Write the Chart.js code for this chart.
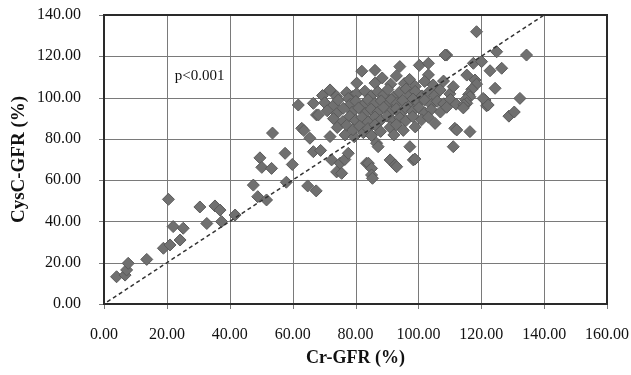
<!DOCTYPE html>
<html lang="en">
<head>
  <meta charset="UTF-8" />
  <title>CysC-GFR vs Cr-GFR</title>
  <script src="https://cdn.jsdelivr.net/npm/chart.js"></script>
  <style>
    body { margin: 0; background: #fff; }
  </style>
</head>
<body>
  <div style="position:relative;width:631px;height:375px"><canvas id="scatter"></canvas></div>

  <script>
    // [Cr-GFR %, CysC-GFR %] pairs
    const lowPoints = [
      [4.0,13.2],[6.7,14.0],[7.2,16.5],[7.7,19.7],[13.6,21.6],[20.5,50.7],[18.9,27.0],
      [21.0,28.6],[22.0,37.5],[25.2,36.7],[24.2,31.0],[30.5,47.0],[32.7,39.0],[35.3,47.5],
      [36.9,45.5],[37.4,39.9],[41.7,43.1]
    ];
    const midPoints = [
      [47.5,57.6],[48.9,52.0],[51.7,50.4],[58.0,59.0],[64.8,57.2],[67.5,54.8],[53.6,82.8],
      [49.6,70.8],[50.2,66.2],[53.3,65.7],[57.6,73.0],[59.9,67.6],[62.9,85.1],[61.8,96.4],
      [66.6,97.2],[67.6,91.6],[66.6,73.8],[68.9,74.4],[65.5,80.3],[63.6,84.0],[68.2,91.6]
    ];
    const clusterPoints = [
      // y ~105-113
      [80.4,107.0],[82.0,112.8],[86.2,113.2],[86.2,107.0],[88.5,109.5],[91.2,106.5],[93.0,110.5],
      [94.1,115.0],[95.5,106.8],[97.2,108.8],[99.0,105.4],[100.3,115.6],[103.2,116.6],[103.2,111.0],
      [102.0,107.8],[104.7,106.1],[108.0,108.0],[109.0,120.6],
      // y ~100-104
      [69.5,101.0],[71.9,103.7],[74.0,100.6],[77.2,102.4],[79.0,100.5],[80.4,102.0],[83.0,103.1],
      [85.0,100.9],[87.1,102.8],[89.0,101.4],[90.3,103.9],[92.1,100.2],[94.0,102.6],[96.1,104.2],
      [97.3,101.1],[99.0,103.0],[101.2,100.8],[103.0,102.2],[105.2,101.0],[106.9,103.7],[110.0,101.8],
      [111.1,105.3],
      // y ~96-99
      [70.2,97.5],[73.1,96.4],[74.5,98.8],[77.7,99.6],[78.4,96.8],[80.1,98.2],[82.3,96.1],
      [84.0,98.9],[86.1,97.0],[88.2,98.4],[90.0,96.3],[91.4,99.0],[93.2,97.2],[95.0,98.6],
      [97.1,96.0],[98.3,99.3],[100.0,97.4],[102.0,98.8],[104.1,96.6],[106.0,98.2],[108.1,97.0],
      [110.2,99.1],[112.0,96.8],
      // y ~92-95
      [71.0,93.6],[74.0,92.2],[76.1,94.8],[79.0,93.0],[81.0,95.0],[83.2,92.5],[85.0,94.4],
      [87.1,92.9],[89.0,95.2],[91.2,93.1],[93.0,94.6],[94.2,92.2],[96.0,94.9],[98.1,93.3],
      [100.2,95.1],[102.0,92.6],[104.1,94.2],[107.0,93.0],[109.0,95.3],
      // y ~88-91
      [73.0,89.8],[76.0,88.4],[78.2,90.9],[80.0,88.9],[82.1,90.4],[84.0,88.2],[86.2,90.6],
      [88.0,89.0],[90.1,91.0],[92.0,88.6],[94.1,90.2],[96.0,88.8],[98.2,90.8],[101.0,89.2],
      [103.2,90.5],[105.3,87.5],
      // y ~80-87
      [71.9,81.1],[74.2,85.5],[76.7,81.9],[77.2,86.6],[79.6,81.0],[79.2,84.4],[81.3,86.2],
      [82.5,83.0],[84.0,85.0],[85.1,81.6],[86.2,86.8],[88.0,83.6],[91.0,85.6],[92.2,81.9],
      [93.0,86.9],[95.2,84.1],[99.0,85.8],[86.7,77.9],[87.2,76.2],
      // below the cluster
      [72.4,69.8],[74.0,64.0],[75.1,68.2],[76.6,70.0],[75.6,63.3],[77.7,73.0],[83.5,68.2],
      [84.1,68.2],[85.1,65.7],[85.1,62.5],[85.4,60.9],[91.0,69.8],[92.6,67.3],[93.1,66.5],
      [97.3,76.2],[98.4,69.8],[98.9,70.2]
    ];
    const highPoints = [
      [118.5,131.9],[124.9,122.2],[134.4,120.6],[108.5,120.6],[117.5,116.6],[120.1,117.4],
      [122.8,113.0],[126.5,114.2],[115.4,110.9],[118.0,108.5],[118.5,106.5],[117.0,104.0],
      [116.0,101.5],[116.4,100.4],[115.0,99.0],[115.4,97.2],[114.5,96.5],[114.3,95.0],
      [121.2,98.8],[121.7,96.0],[120.6,99.6],[122.2,96.4],[124.4,104.5],[132.3,99.6],
      [128.8,91.0],[130.5,93.0],[111.6,85.1],[112.2,84.3],[116.4,83.5],[111.1,76.2]
    ];

    const refLine = [[1, 1], [140, 140]];
    const pLabel = { text: 'p<0.001', x: 22.5, y: 110.5 };

    const xTitle = 'Cr-GFR (%)';
    const yTitle = 'CysC-GFR (%)';

    const toXY = arr => arr.map(p => ({ x: p[0], y: p[1] }));
    const allPoints = [].concat(lowPoints, midPoints, clusterPoints, highPoints);

    const serif = '"Liberation Serif", "Times New Roman", serif';

    // grid, tick marks and frame, placed from the scales' own ticks (filled rects, 1px)
    const dottedGrid = {
      id: 'dottedGrid',
      beforeDatasetsDraw(chart) {
        const { ctx, chartArea: a, scales } = chart;
        const left = Math.round(a.left), right = Math.round(a.right);
        const top = Math.round(a.top), bottom = Math.round(a.bottom);
        ctx.save();
        ctx.fillStyle = '#7a7a7a';
        scales.x.ticks.forEach(t => {
          const px = Math.round(scales.x.getPixelForValue(t.value));
          ctx.fillRect(px, top, 1, bottom - top + 5);
        });
        scales.y.ticks.forEach(t => {
          const py = Math.round(scales.y.getPixelForValue(t.value));
          ctx.fillRect(left - 5, py, right - left + 5, 1);
        });
        ctx.fillStyle = '#2a2a2a';
        ctx.fillRect(left - 1, top, 2, bottom - top + 1);
        ctx.fillRect(left - 1, bottom - 1, right - left + 2, 2);
        ctx.fillRect(right - 1, top, 2, bottom - top + 1);
        ctx.fillRect(left - 1, top - 1, right - left + 2, 2);
        ctx.restore();
      }
    };

    const pText = {
      id: 'pText',
      afterDatasetsDraw(chart) {
        const { ctx, scales } = chart;
        ctx.save();
        ctx.font = '15px ' + serif;
        ctx.fillStyle = '#111';
        ctx.textAlign = 'left';
        ctx.textBaseline = 'middle';
        ctx.fillText(pLabel.text, scales.x.getPixelForValue(pLabel.x), scales.y.getPixelForValue(pLabel.y));
        ctx.restore();
      }
    };

    new Chart(document.getElementById('scatter'), {
      type: 'scatter',
      data: {
        datasets: [
          {
            type: 'line',
            data: toXY(refLine),
            borderColor: '#333',
            borderWidth: 1.5,
            borderDash: [4, 3],
            pointRadius: 0,
            order: 0
          },
          {
            data: toXY(allPoints),
            pointStyle: 'rectRot',
            pointRadius: 6,
            backgroundColor: '#707070',
            borderColor: '#5a5a5a',
            borderWidth: 1,
            order: 1
          }
        ]
      },
      options: {
        responsive: true,
        maintainAspectRatio: false,
        animation: false,
        layout: { padding: { left: 4, right: 24, top: 15, bottom: 2 } },
        plugins: { legend: { display: false }, tooltip: { enabled: false } },
        scales: {
          x: {
            type: 'linear', min: 0, max: 160,
            afterFit(s) { s.height = 69; s.paddingLeft = 0; s.paddingRight = 0; },
            ticks: { stepSize: 20, padding: 13, color: '#111', font: { family: serif, size: 16 },
                     callback: v => v.toFixed(2), maxRotation: 0 },
            grid: { display: false },
            border: { display: false },
            title: { display: true, text: xTitle, color: '#111', padding: 4,
                     font: { family: serif, size: 18, weight: 'bold' } }
          },
          y: {
            type: 'linear', min: 0, max: 140,
            afterFit(s) { s.width = 100; s.paddingTop = 0; s.paddingBottom = 0; },
            ticks: { stepSize: 20, padding: 15, color: '#111', font: { family: serif, size: 16 },
                     callback: v => v.toFixed(2) },
            grid: { display: false },
            border: { display: false },
            title: { display: true, text: yTitle, color: '#111', padding: 4,
                     font: { family: serif, size: 19, weight: 'bold' } }
          }
        }
      },
      plugins: [dottedGrid, pText]
    });
  </script>
</body>
</html>
